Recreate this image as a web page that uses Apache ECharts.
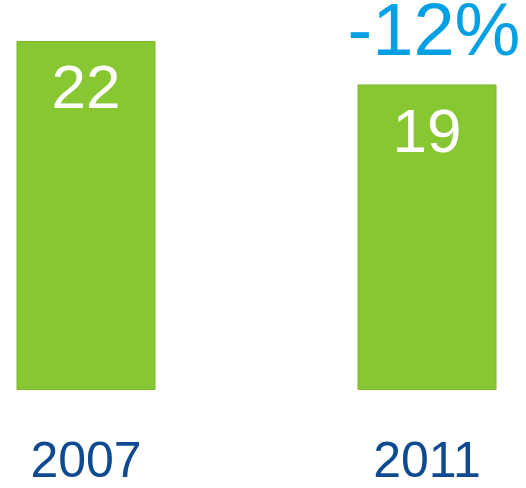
<!DOCTYPE html>
<html>
<head>
<meta charset="utf-8">
<script src="https://cdn.jsdelivr.net/npm/echarts@6/dist/echarts.min.js"></script>
<style>
  html, body { margin: 0; padding: 0; background: #fff; }
  #chart { width: 526px; height: 488px; }
</style>
</head>
<body>
<div id="chart"></div>
<script>
// data
const years = ['2007', '2011'];
const values = [21.7, 19.0];

// change between the two years, shown above the second bar
const change = Math.round((values[1] / values[0] - 1) * 100);
const changeText = (change > 0 ? '+' : '') + change + '%';

const FONT = "'Liberation Sans', Arial, sans-serif";

var myChart = echarts.init(document.getElementById('chart'));

var option = {
  animation: false,
  grid: {
    left: 86,
    right: 99,
    top: 4,
    bottom: 95
  },
  xAxis: {
    type: 'category',
    data: years,
    boundaryGap: false,
    axisLine: { show: false },
    axisTick: { show: false },
    axisLabel: {
      margin: 48,
      fontSize: 50,
      fontFamily: FONT,
      color: '#0d4a8f'
    }
  },
  yAxis: {
    type: 'value',
    min: 0,
    max: 24,
    show: false,
    splitLine: { show: false }
  },
  series: [
    {
      type: 'bar',
      data: values,
      barWidth: 139,
      itemStyle: {
        color: '#87c731',
        borderColor: '#7cb82d',
        borderWidth: 1
      },
      label: {
        show: true,
        position: 'insideTop',
        distance: 19,
        fontSize: 62,
        fontFamily: FONT,
        color: '#ffffff',
        formatter: p => Math.round(p.value)
      },
      markPoint: {
        symbol: 'circle',
        symbolSize: 0,
        silent: true,
        data: [{ coord: [years[1], values[1]], value: changeText }],
        label: {
          show: true,
          position: 'inside',
          offset: [7, -50],
          fontSize: 74,
          fontFamily: FONT,
          color: '#00a1e4',
          formatter: p => p.value
        }
      }
    }
  ]
};

myChart.setOption(option);
</script>
</body>
</html>
